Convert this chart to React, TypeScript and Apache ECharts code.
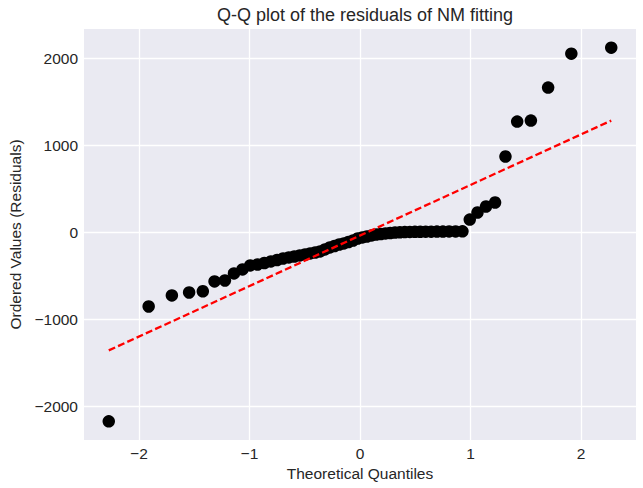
import React, { useEffect, useRef } from "react";
import * as echarts from "echarts";

// Theoretical quantiles (x)
const quantiles: number[] = [
  -2.273, -1.912, -1.702, -1.546, -1.422, -1.316, -1.222, -1.14, -1.063, -0.993,
  -0.927, -0.865, -0.806, -0.75, -0.696, -0.644, -0.594, -0.545, -0.497, -0.451,
  -0.405, -0.361, -0.317, -0.273, -0.23, -0.188, -0.146, -0.104, -0.062, -0.021,
  0.021, 0.062, 0.104, 0.146, 0.188, 0.23, 0.273, 0.317, 0.361, 0.405,
  0.451, 0.497, 0.545, 0.594, 0.644, 0.696, 0.75, 0.806, 0.865, 0.927,
  0.993, 1.063, 1.14, 1.222, 1.316, 1.422, 1.546, 1.702, 1.912, 2.273,
];

// Ordered residuals (y)
const residuals: number[] = [
  -2172, -851, -724, -690, -676, -563, -552, -471, -425, -379,
  -368, -351, -333, -316, -299, -287, -276, -264, -253, -241,
  -230, -218, -195, -172, -155, -138, -126, -109, -92, -69,
  -57, -46, -34, -23, -17, -11, -6, 0, 2, 5,
  7, 8, 9, 10, 10, 11, 11, 12, 12, 13,
  149, 230, 299, 345, 874, 1276, 1287, 1667, 2057, 2126,
];

// Fitted reference line endpoints
const fitX: number[] = [-2.273, 2.273];
const fitY: number[] = [-1356, 1287];

const xTicks: number[] = [-2, -1, 0, 1, 2];
const yTicks: number[] = [-2000, -1000, 0, 1000, 2000];

const xRange = { min: -2.497, max: 2.497 };
const yRange = { min: -2387, max: 2341 };

const TEXT = "#262626";
const FONT = "'Liberation Sans', Arial, sans-serif";

const fmt = (v: number | string) => {
  const n = Number(v);
  return n < 0 ? "\u2212" + Math.abs(n) : String(n);
};

export default function App() {
  const ref = useRef<HTMLDivElement>(null);

  useEffect(() => {
    if (!ref.current) return;
    const chart = echarts.init(ref.current, undefined, { renderer: "svg" });
    chart.setOption({
      animation: false,
      backgroundColor: "#ffffff",
      textStyle: { fontFamily: FONT, color: TEXT },
      title: {
        text: "Q-Q plot of the residuals of NM fitting",
        left: 360,
        textAlign: "center",
        top: 1,
        textStyle: { fontFamily: FONT, fontSize: 18, fontWeight: "normal", color: TEXT },
      },
      grid: {
        left: 84,
        right: 7,
        top: 29,
        bottom: 48,
        show: true,
        backgroundColor: "#EAEAF2",
        borderWidth: 0,
        containLabel: false,
        outerBoundsMode: "none",
      },
      xAxis: {
        type: "value",
        min: xRange.min,
        max: xRange.max,
        name: "Theoretical Quantiles",
        nameLocation: "middle",
        nameGap: 25,
        nameTextStyle: { fontFamily: FONT, fontSize: 15.5, color: TEXT },
        axisLine: { show: false },
        axisTick: { show: false, customValues: xTicks },
        axisLabel: {
          customValues: xTicks,
          formatter: fmt,
          fontFamily: FONT,
          fontSize: 15.5,
          color: TEXT,
          margin: 5,
        },
        splitLine: { show: true, lineStyle: { color: "#ffffff", width: 1.3 } },
      },
      yAxis: {
        type: "value",
        min: yRange.min,
        max: yRange.max,
        name: "Ordered Values (Residuals)",
        nameLocation: "middle",
        nameGap: 55,
        nameTextStyle: { fontFamily: FONT, fontSize: 15.5, color: TEXT },
        axisLine: { show: false },
        axisTick: { show: false, customValues: yTicks },
        axisLabel: {
          customValues: yTicks,
          formatter: fmt,
          fontFamily: FONT,
          fontSize: 15.5,
          color: TEXT,
          margin: 6,
        },
        splitLine: { show: true, lineStyle: { color: "#ffffff", width: 1.3 } },
      },
      series: [
        {
          type: "scatter",
          data: quantiles.map((q, i) => [q, residuals[i]]),
          symbol: "circle",
          symbolSize: 12.5,
          itemStyle: { color: "#000000", opacity: 1 },
          z: 2,
        },
        {
          type: "line",
          data: fitX.map((x, i) => [x, fitY[i]]),
          showSymbol: false,
          symbol: "none",
          lineStyle: { color: "#ff0000", width: 2.3, type: [7, 3.2] },
          z: 3,
        },
      ],
    });
    return () => chart.dispose();
  }, []);

  return <div ref={ref} style={{ width: 643, height: 488, position: "absolute", left: 0, top: 0 }} />;
}
